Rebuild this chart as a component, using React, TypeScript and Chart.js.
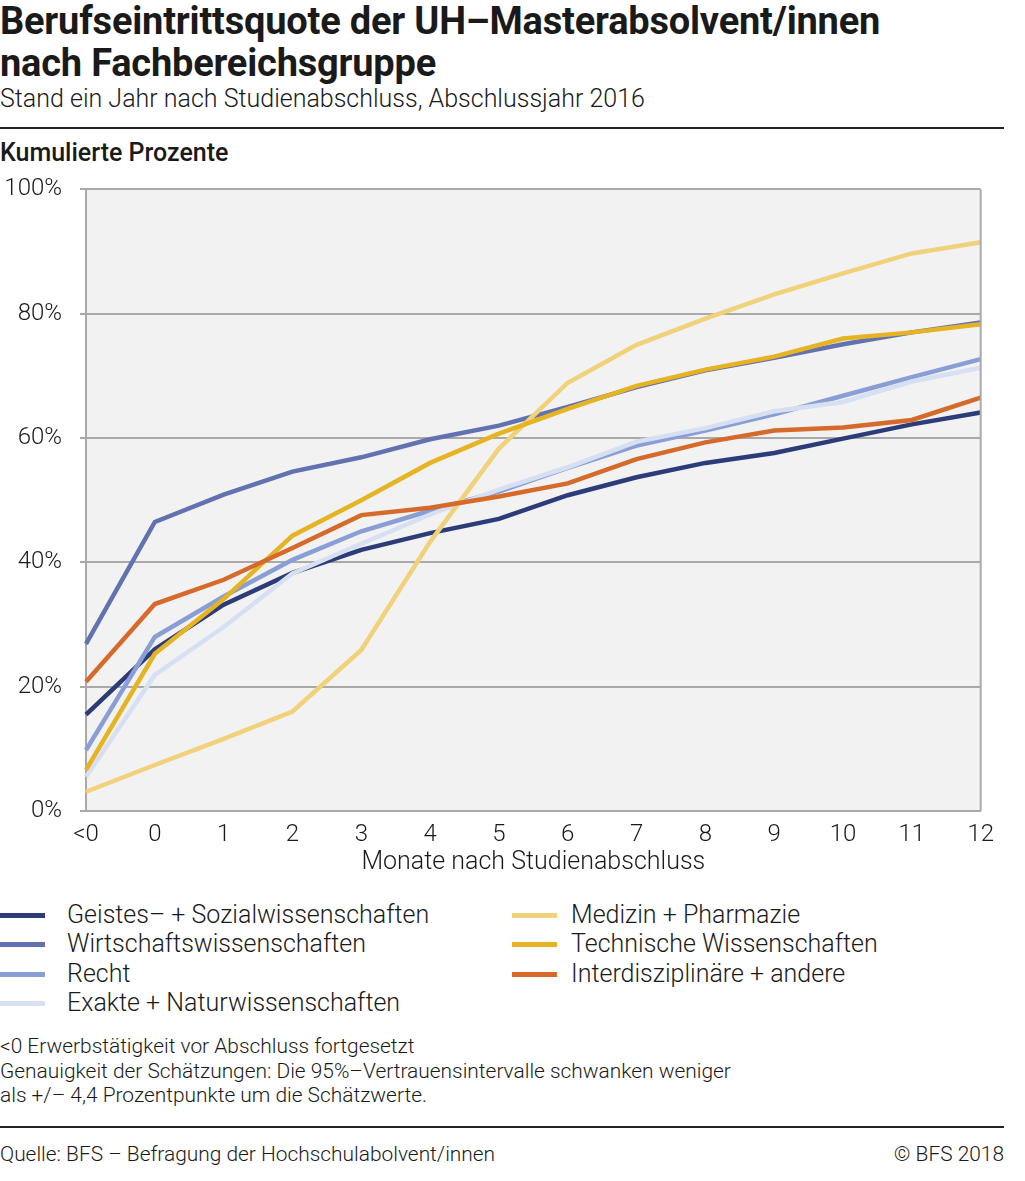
import React, { useEffect, useRef } from "react";
import { Chart, registerables } from "chart.js";

Chart.register(...registerables);

const categories = ["<0", "0", "1", "2", "3", "4", "5", "6", "7", "8", "9", "10", "11", "12"];

const geistes = [15.5, 26.0, 33.2, 38.3, 42.0, 44.7, 47.0, 50.8, 53.7, 56.0, 57.6, 59.9, 62.2, 64.1];
const wirtschaft = [26.9, 46.5, 50.9, 54.6, 56.9, 59.8, 62.0, 65.0, 68.2, 70.9, 72.9, 75.1, 77.0, 78.6];
const recht = [9.8, 28.0, 34.5, 40.4, 45.0, 48.3, 51.4, 55.2, 58.8, 61.2, 63.8, 66.8, 69.8, 72.7];
const exakte = [5.5, 21.9, 29.6, 38.2, 43.0, 47.7, 51.7, 55.3, 59.4, 61.6, 64.3, 65.8, 69.1, 71.3];
const medizin = [3.1, 7.4, 11.6, 16.0, 25.9, 43.3, 58.3, 68.9, 75.0, 79.2, 83.1, 86.5, 89.7, 91.5];
const technische = [6.6, 25.3, 34.1, 44.3, 50.0, 56.0, 60.7, 64.7, 68.4, 71.0, 73.1, 76.0, 77.0, 78.3];
const interdisz = [20.8, 33.3, 37.2, 42.3, 47.6, 48.8, 50.6, 52.7, 56.6, 59.3, 61.2, 61.7, 62.9, 66.5];

const seriesNames = [
  "Geistes– + Sozialwissenschaften",
  "Wirtschaftswissenschaften",
  "Recht",
  "Exakte + Naturwissenschaften",
  "Medizin + Pharmazie",
  "Technische Wissenschaften",
  "Interdisziplinäre + andere",
];
const seriesColors = ["#2c3c78", "#6272b0", "#8a9ed6", "#d7dff3", "#f0d27b", "#e6b322", "#d66a2a"];
const seriesData = [geistes, wirtschaft, recht, exakte, medizin, technische, interdisz];

const yTicks = [0, 20, 40, 60, 80, 100];

const FONT = "Roboto, 'Noto Sans', sans-serif";
const TEXT = "#1a1a1a";
const GRID = "#a9a9a9";

const bgPlugin = {
  id: "plotBg",
  beforeDraw(chart: any) {
    const { ctx, chartArea } = chart;
    ctx.save();
    ctx.fillStyle = "#f2f2f2";
    ctx.fillRect(chartArea.left, chartArea.top, chartArea.right - chartArea.left, chartArea.bottom - chartArea.top);
    ctx.restore();
  },
  afterDatasetsDraw(chart: any) {
    const { ctx, chartArea } = chart;
    ctx.save();
    ctx.strokeStyle = GRID;
    ctx.lineWidth = 2;
    ctx.beginPath();
    ctx.moveTo(chartArea.right, chartArea.top);
    ctx.lineTo(chartArea.right, chartArea.bottom);
    ctx.stroke();
    ctx.restore();
  },
};

function LineChart() {
  const ref = useRef<HTMLCanvasElement>(null);
  useEffect(() => {
    if (!ref.current) return;
    const chart = new Chart(ref.current, {
      type: "line",
      data: {
        labels: categories,
        datasets: seriesData.map((d, i) => ({
          label: seriesNames[i],
          data: d,
          borderColor: seriesColors[i],
          backgroundColor: seriesColors[i],
          borderWidth: 4.5,
          pointRadius: 0,
          tension: 0,
          fill: false,
          order: 10 - i,
        })),
      },
      options: {
        animation: false,
        responsive: false,
        maintainAspectRatio: false,
        layout: { padding: { top: 9, right: 21, left: 0, bottom: 0 } },
        plugins: { legend: { display: false }, tooltip: { enabled: false }, title: { display: false } },
        scales: {
          x: {
            type: "category",
            offset: false,
            grid: { display: false, tickLength: 0 },
            border: { display: true, color: GRID, width: 2 },
            ticks: { color: TEXT, font: { family: FONT, size: 24, weight: "300" }, padding: 10, maxRotation: 0, autoSkip: false },
            title: {
              display: true,
              text: "Monate nach Studienabschluss",
              color: TEXT,
              font: { family: FONT, size: 25, weight: "300" },
              padding: { top: 0, bottom: 0 },
            },
            afterFit(scale: any) { scale.height = 67; },
          },
          y: {
            min: 0,
            max: 100,
            afterBuildTicks(scale: any) { scale.ticks = yTicks.map((v) => ({ value: v })); },
            grid: { color: GRID, lineWidth: 2, tickLength: 6, drawTicks: true },
            border: { display: true, color: GRID, width: 2 },
            ticks: {
              color: TEXT,
              font: { family: FONT, size: 24, weight: "300" },
              padding: 18,
              callback: (v: any) => v + "%",
            },
            afterFit(scale: any) { scale.width = 86; },
          },
        },
      },
      plugins: [bgPlugin],
    });
    return () => chart.destroy();
  }, []);
  return <canvas ref={ref} width={1004} height={721} style={{ position: "absolute", left: 0, top: 157, width: 1004, height: 721 }} />;
}

export default function App() {
  const legendCol1 = [0, 1, 2, 3];
  const legendCol2 = [4, 5, 6];
  const rowY = [915, 944, 974, 1003];
  const base: React.CSSProperties = { position: "absolute", fontFamily: FONT, color: TEXT, whiteSpace: "nowrap" };
  return (
    <div style={{ position: "absolute", left: 0, top: 0, width: 1025, height: 1181, background: "#fff", overflow: "hidden" }}>
      <div style={{ ...base, left: 0, top: 0, fontSize: 38, fontWeight: 700, lineHeight: "42px", letterSpacing: "-0.2px" }}>
        Berufseintrittsquote der UH–Masterabsolvent/innen
        <br />
        nach Fachbereichsgruppe
      </div>
      <div style={{ ...base, left: 0, top: 84, fontSize: 25, fontWeight: 300, lineHeight: "30px" }}>
        Stand ein Jahr nach Studienabschluss, Abschlussjahr 2016
      </div>
      <div style={{ position: "absolute", left: 0, top: 127, width: 1004, height: 2, background: "#222" }} />
      <div style={{ ...base, left: 0, top: 138, fontSize: 25, fontWeight: 500, lineHeight: "30px" }}>Kumulierte Prozente</div>
      {legendCol1.map((si, r) => (
        <React.Fragment key={si}>
          <div style={{ position: "absolute", left: 0, top: rowY[r] - 2.5, width: 45, height: 5, background: seriesColors[si] }} />
          <div style={{ ...base, left: 67, top: rowY[r] - 15, fontSize: 25, fontWeight: 300, lineHeight: "30px" }}>{seriesNames[si]}</div>
        </React.Fragment>
      ))}
      {legendCol2.map((si, r) => (
        <React.Fragment key={si}>
          <div style={{ position: "absolute", left: 512, top: rowY[r] - 2.5, width: 45, height: 5, background: seriesColors[si] }} />
          <div style={{ ...base, left: 571, top: rowY[r] - 15, fontSize: 25, fontWeight: 300, lineHeight: "30px" }}>{seriesNames[si]}</div>
        </React.Fragment>
      ))}
      <LineChart />
      <div style={{ ...base, left: 0, top: 1034, fontSize: 20.9, fontWeight: 300, lineHeight: "24.5px" }}>
        &lt;0 Erwerbstätigkeit vor Abschluss fortgesetzt
        <br />
        Genauigkeit der Schätzungen: Die 95%–Vertrauensintervalle schwanken weniger
        <br />
        als +/– 4,4 Prozentpunkte um die Schätzwerte.
      </div>
      <div style={{ position: "absolute", left: 0, top: 1126, width: 1004, height: 2, background: "#222" }} />
      <div style={{ ...base, left: 0, top: 1142, fontSize: 20.9, fontWeight: 300, lineHeight: "24px" }}>
        Quelle: BFS – Befragung der Hochschulabolvent/innen
      </div>
      <div style={{ ...base, right: 21, top: 1142, fontSize: 20.9, fontWeight: 300, lineHeight: "24px" }}>© BFS 2018</div>
    </div>
  );
}
